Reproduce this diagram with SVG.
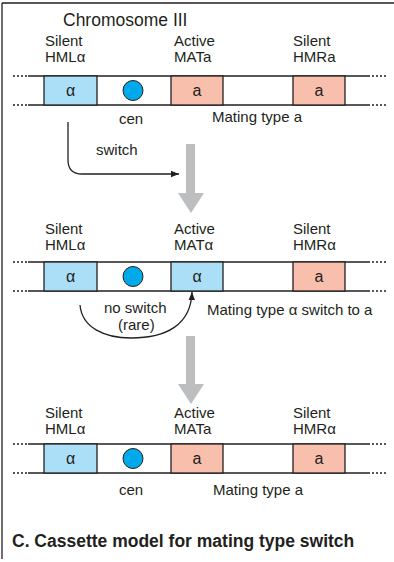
<svg xmlns="http://www.w3.org/2000/svg" width="394" height="562" viewBox="0 0 394 562">
<style>
text{font-family:"Liberation Sans",Arial,sans-serif;fill:#231f20}
.lb{font-size:15px}
.bx{font-size:16px}
.ln{stroke:#231f20;stroke-width:1.3;fill:none}
.dt{stroke:#231f20;stroke-width:1.3;stroke-dasharray:2 2;fill:none}
.blue{fill:#abdff7;stroke:#231f20;stroke-width:1.3}
.pink{fill:#f9bfad;stroke:#231f20;stroke-width:1.3}
.cen{fill:#00a9e9;stroke:#231f20;stroke-width:1}
.gray{fill:#bcbec0}
</style>
<defs>
<marker id="ah" viewBox="0 0 10 10" refX="10" refY="5" markerWidth="8" markerHeight="8" markerUnits="userSpaceOnUse" orient="auto">
<path d="M0,1 L10,5 L0,9 Z" fill="#231f20"/>
</marker>
<g id="chr">
<line class="dt" x1="13" y1="0" x2="28" y2="0"/>
<line class="dt" x1="13" y1="29" x2="28" y2="29"/>
<line class="dt" x1="368" y1="0" x2="386" y2="0"/>
<line class="dt" x1="368" y1="29" x2="386" y2="29"/>
<line class="ln" x1="28" y1="0" x2="368" y2="0"/>
<line class="ln" x1="28" y1="29" x2="368" y2="29"/>
<circle class="cen" cx="133" cy="14.5" r="10"/>
</g>
</defs>
<g id="frame">
<line class="ln" x1="2" y1="3" x2="394" y2="3" stroke-width="1.5"/>
<line class="ln" x1="2" y1="3" x2="2" y2="559" stroke-width="1.5"/>
</g>
<text x="63" y="26" font-size="17.5">Chromosome III</text>

<g id="chromosome1">
<text class="lb" x="45" y="46">Silent</text>
<text class="lb" x="45" y="62">HMLα</text>
<text class="lb" x="174" y="46">Active</text>
<text class="lb" x="174" y="62">MATa</text>
<text class="lb" x="293" y="46">Silent</text>
<text class="lb" x="293" y="62">HMRa</text>
<use href="#chr" x="0" y="76"/>
<rect class="blue" x="44" y="76" width="53" height="29"/>
<rect class="pink" x="171" y="76" width="52" height="29"/>
<rect class="pink" x="293" y="76" width="52" height="29"/>
<text class="bx" x="70.5" y="96" text-anchor="middle">α</text>
<text class="bx" x="197" y="96" text-anchor="middle">a</text>
<text class="bx" x="319" y="96" text-anchor="middle">a</text>
<text class="lb" x="119" y="124">cen</text>
<text class="lb" x="212" y="122">Mating type a</text>
</g>

<g id="chromosome2">
<text class="lb" x="45" y="234">Silent</text>
<text class="lb" x="45" y="250">HMLα</text>
<text class="lb" x="174" y="234">Active</text>
<text class="lb" x="174" y="250">MATα</text>
<text class="lb" x="293" y="234">Silent</text>
<text class="lb" x="293" y="250">HMRα</text>
<use href="#chr" x="0" y="262"/>
<rect class="blue" x="44" y="262" width="53" height="29"/>
<rect class="blue" x="171" y="262" width="52" height="29"/>
<rect class="pink" x="293" y="262" width="52" height="29"/>
<text class="bx" x="70.5" y="282" text-anchor="middle">α</text>
<text class="bx" x="197" y="282" text-anchor="middle">α</text>
<text class="bx" x="319" y="282" text-anchor="middle">a</text>
<text class="lb" x="207" y="315">Mating type α switch to a</text>
</g>

<g id="chromosome3">
<text class="lb" x="45" y="418">Silent</text>
<text class="lb" x="45" y="434">HMLα</text>
<text class="lb" x="174" y="418">Active</text>
<text class="lb" x="174" y="434">MATa</text>
<text class="lb" x="293" y="418">Silent</text>
<text class="lb" x="293" y="434">HMRα</text>
<use href="#chr" x="0" y="444"/>
<rect class="blue" x="44" y="444" width="53" height="29"/>
<rect class="pink" x="171" y="444" width="52" height="29"/>
<rect class="pink" x="293" y="444" width="52" height="29"/>
<text class="bx" x="70.5" y="464" text-anchor="middle">α</text>
<text class="bx" x="197" y="464" text-anchor="middle">a</text>
<text class="bx" x="319" y="464" text-anchor="middle">a</text>
<text class="lb" x="119" y="495">cen</text>
<text class="lb" x="213" y="495">Mating type a</text>
</g>

<g id="connectors">
<path class="ln" d="M68,122 V160 Q68,174 82,174 H179" stroke-width="1.1" marker-end="url(#ah)"/>
<text class="lb" x="96" y="155">switch</text>
<polygon class="gray" points="186,144 195,144 195,193 204,193 191,213 178,193 186,193"/>
<path class="ln" d="M80,305 C82,328 105,338 131,338 C166,338 191,325 192,292" stroke-width="1.1" marker-end="url(#ah)"/>
<text class="lb" x="104" y="313">no switch</text>
<text class="lb" x="118" y="330">(rare)</text>
<polygon class="gray" points="186,336 195,336 195,384 204,384 191,404 178,384 186,384"/>
</g>

<text x="12" y="547" font-size="17.5" font-weight="bold">C. Cassette model for mating type switch</text>
</svg>
